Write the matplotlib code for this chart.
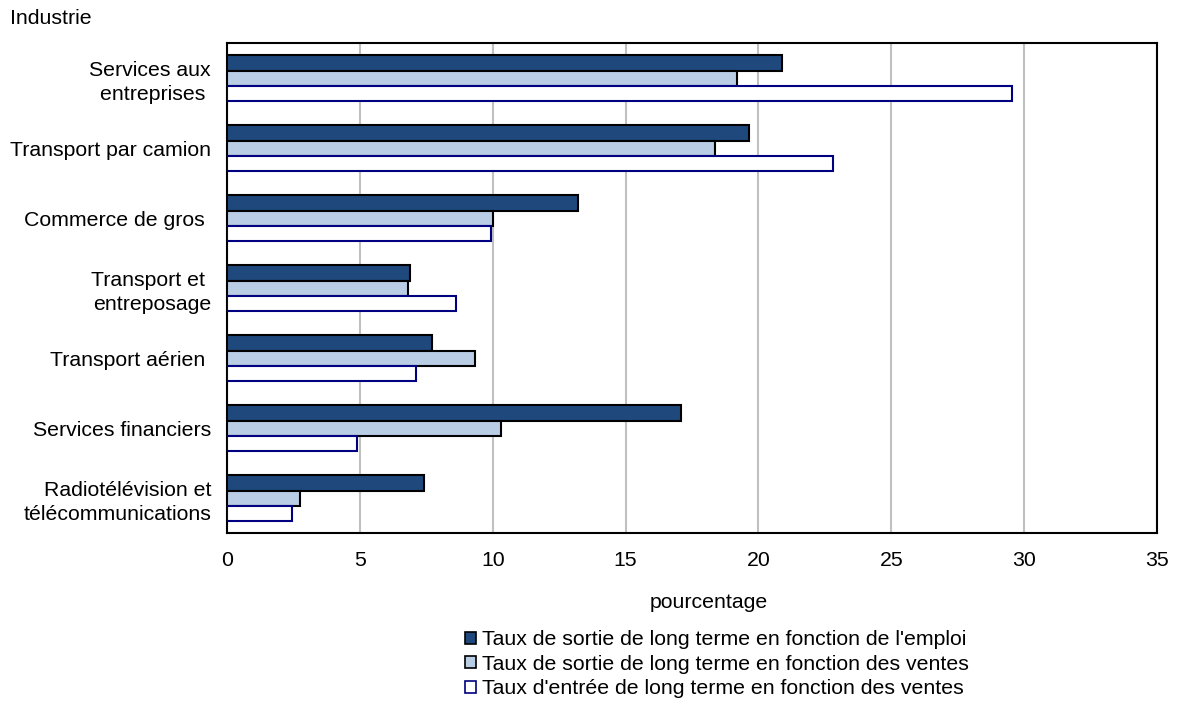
import numpy as np
import matplotlib.pyplot as plt
from matplotlib.patches import Patch

plt.rcParams['font.family'] = ['Liberation Sans', 'DejaVu Sans']

# Industries, top to bottom
industries = [
    "Services aux\nentreprises ",
    "Transport par camion",
    "Commerce de gros ",
    "Transport et \nentreposage",
    "Transport aérien ",
    "Services financiers",
    "Radiotélévision et\ntélécommunications",
]

# Long-term rates (%)
exit_employment = [20.9, 19.65, 13.2, 6.9, 7.7, 17.1, 7.4]
exit_sales = [19.2, 18.35, 10.0, 6.8, 9.35, 10.3, 2.75]
entry_sales = [29.55, 22.8, 9.95, 8.6, 7.1, 4.9, 2.45]

series_labels = [
    "Taux de sortie de long terme en fonction de l'emploi",
    "Taux de sortie de long terme en fonction des ventes",
    "Taux d'entrée de long terme en fonction des ventes",
]

dark = '#1f497d'
light = '#b9cde5'
navy = '#000080'
fs = 15.3


def main():
    fig = plt.figure(figsize=(11.77, 7.02), dpi=100)
    ax = fig.add_axes([0.1929, 0.2407, 0.7901, 0.698])

    y = np.arange(len(industries))
    h = 0.215

    ax.barh(y - h, exit_employment, height=h, color=dark, edgecolor='black', linewidth=1.5, zorder=3)
    ax.barh(y, exit_sales, height=h, color=light, edgecolor='black', linewidth=1.5, zorder=3)
    ax.barh(y + h, entry_sales, height=h, color='white', edgecolor=navy, linewidth=1.5, zorder=3)

    ax.set_ylim(len(industries) - 0.5, -0.5)
    ax.set_yticks(y)
    ax.set_yticklabels(industries, fontsize=fs, linespacing=1.32)
    ax.set_xlim(0, 35)
    ax.set_xticks(np.arange(0, 36, 5))
    ax.tick_params(axis='both', length=0, labelsize=fs)
    ax.tick_params(axis='x', pad=13)
    ax.tick_params(axis='y', pad=11.5)

    ax.grid(axis='x', color='#c0c0c0', linewidth=1.5, zorder=0)
    for s in ax.spines.values():
        s.set_linewidth(1.5)
        s.set_color('black')

    ax.set_xlabel('pourcentage', fontsize=fs)
    ax.xaxis.set_label_coords(0.518, -0.123)
    fig.text(0.0085, 0.974, 'Industrie', fontsize=fs, ha='left', va='center')

    handles = [
        Patch(facecolor=dark, edgecolor='black', linewidth=1.2),
        Patch(facecolor=light, edgecolor='black', linewidth=1.2),
        Patch(facecolor='white', edgecolor=navy, linewidth=1.2),
    ]
    fig.legend(handles, series_labels, loc='upper left', bbox_to_anchor=(0.395, 0.102),
               frameon=False, fontsize=fs, handlelength=0.5, handleheight=0.5,
               handletextpad=0.3, labelspacing=0.26, borderpad=0, borderaxespad=0)

    fig.savefig('out.png', dpi=100)


if __name__ == "__main__":
    main()
